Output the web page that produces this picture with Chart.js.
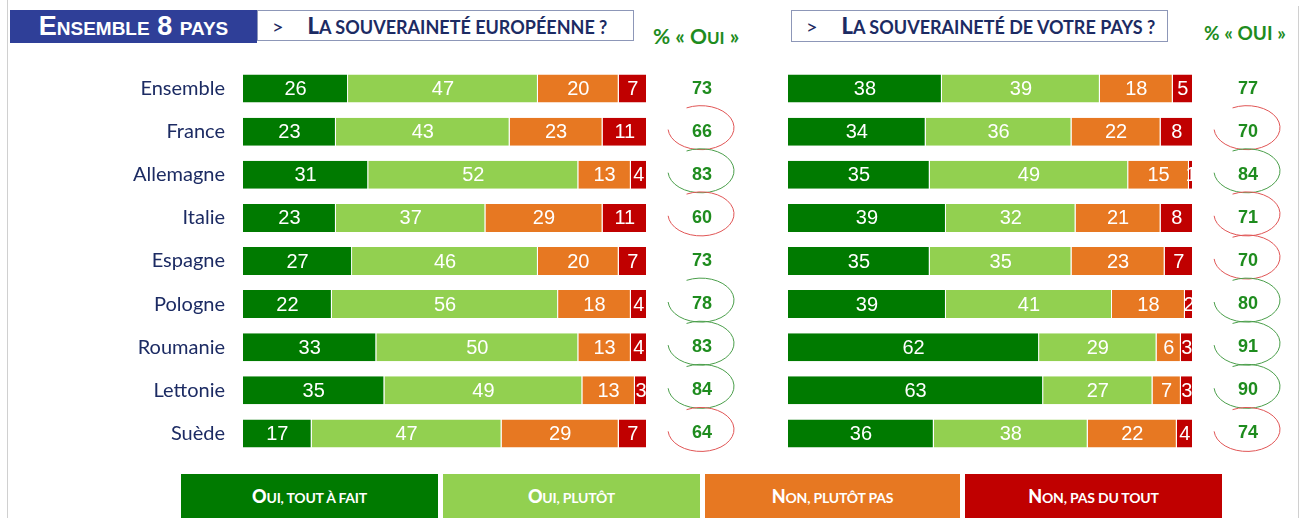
<!DOCTYPE html>
<html lang="fr">
<head>
<meta charset="utf-8">
<script src="https://cdn.jsdelivr.net/npm/chart.js@4"></script>
<style>
    body { margin: 0; background: #fff; width: 1306px; height: 518px; position: relative; overflow: hidden; font-family: Lato, "Open Sans", sans-serif; }
    .abs { position: absolute; }
    .vline { position: absolute; top: 0; width: 1px; height: 518px; background: #d0d0d0; }
    .titre-bleu { left: 10px; top: 10px; width: 247px; height: 33px; background: #2f3f98; color: #fff;
        font: bold 27px "Liberation Sans", Arial, sans-serif; font-variant: small-caps; line-height: 33px; text-align: center; }
    .question { top: 10px; height: 31px; border: 1px solid #8d97b8; box-sizing: border-box; background: #fff; color: #1c2b63;
        font: bold 18px Lato, sans-serif; text-transform: uppercase; line-height: 29px; white-space: nowrap; letter-spacing: 0px; }
    .question b { font-size: 22px; }
    .question span { font-weight: normal; font-size: 20px; margin: 0 24px 0 14px; }
    .oui { color: #1e8c1e; font: bold 21px Lato, sans-serif; white-space: nowrap; }
    .oui small { font-size: 17px; }
    .legende { top: 474px; height: 44px; color: #fff; font: bold 14px Lato, sans-serif; text-transform: uppercase;
        letter-spacing: -0.2px; line-height: 44px; text-align: center; }
    .legende b { font-size: 18px; }
    canvas { position: absolute; }
</style>
</head>
<body>
<div class="vline" style="left:7px"></div>
<div class="vline" style="left:1298px; top:6px"></div>

<div class="abs titre-bleu">Ensemble 8 pays</div>
<div class="abs question" style="left:257px; width:377px;"><span>&gt;</span><b>L</b>a souveraineté européenne ?</div>
<div class="abs oui" style="left:653px; top:23px;">% « O<small>UI</small> »</div>
<div class="abs question" style="left:791px; width:377px; height:32px;"><span>&gt;</span><b>L</b>a souveraineté de votre pays ?</div>
<div class="abs oui" style="left:1204px; top:21px; font-size:19px;">% « OUI »</div>

<canvas id="chartEurope" width="780" height="388" style="left:0; top:67px;"></canvas>
<canvas id="chartPays" width="536" height="388" style="left:770px; top:67px;"></canvas>

<div id="legende"></div>

<script>
// Données
const pays = ["Ensemble", "France", "Allemagne", "Italie", "Espagne", "Pologne", "Roumanie", "Lettonie", "Suède"];
const reponses = ["Oui, tout à fait", "Oui, plutôt", "Non, plutôt pas", "Non, pas du tout"];
const couleurs = ["#007a00", "#92d050", "#e77822", "#c00000"];

// Souveraineté européenne
const euToutAFait = [26, 23, 31, 23, 27, 22, 33, 35, 17];
const euPlutot = [47, 43, 52, 37, 46, 56, 50, 49, 47];
const euPlutotPas = [20, 23, 13, 29, 20, 18, 13, 13, 29];
const euPasDuTout = [7, 11, 4, 11, 7, 4, 4, 3, 7];
const euOui = [73, 66, 83, 60, 73, 78, 83, 84, 64];
const euCercles = [null, "bas", "haut", "bas", null, "haut", "haut", "haut", "bas"];

// Souveraineté de votre pays
const paysToutAFait = [38, 34, 35, 39, 35, 39, 62, 63, 36];
const paysPlutot = [39, 36, 49, 32, 35, 41, 29, 27, 38];
const paysPlutotPas = [18, 22, 15, 21, 23, 18, 6, 7, 22];
const paysPasDuTout = [5, 8, 1, 8, 7, 2, 3, 3, 4];
const paysOui = [77, 70, 84, 71, 70, 80, 91, 90, 74];
const paysCercles = [null, "bas", "haut", "bas", "bas", "haut", "haut", "haut", "bas"];

// Valeurs dans les barres
const etiquettesBarres = {
    id: "etiquettesBarres",
    afterDatasetsDraw(chart) {
        const ctx = chart.ctx;
        ctx.save();
        ctx.font = '20px "Liberation Sans", Arial, sans-serif';
        ctx.fillStyle = "#fff";
        ctx.textAlign = "center";
        ctx.textBaseline = "middle";
        chart.data.datasets.forEach((ds, i) => {
            chart.getDatasetMeta(i).data.forEach((bar, j) => {
                ctx.fillText(ds.data[j], (bar.x + bar.base) / 2, bar.y + 1);
            });
        });
        ctx.restore();
    }
};

// Colonne "% Oui" avec les cercles dessinés à la main
const colonneOui = {
    id: "colonneOui",
    afterDraw(chart, args, opts) {
        const ctx = chart.ctx;
        const yScale = chart.scales.y;
        const x = chart.chartArea.right + 55;
        ctx.save();
        opts.valeurs.forEach((v, i) => {
            const y = yScale.getPixelForValue(i);
            ctx.font = 'bold 18px "Liberation Sans", Arial, sans-serif';
            ctx.fillStyle = "#1e8c1e";
            ctx.textAlign = "center";
            ctx.textBaseline = "middle";
            ctx.fillText(v, x, y);
            const marque = opts.cercles[i];
            if (marque) {
                ctx.beginPath();
                ctx.strokeStyle = marque === "haut" ? "#4a9e4a" : "#e05555";
                ctx.lineWidth = 1;
                ctx.ellipse(x - 1, y - 4, 33, 22, 0, 244 * Math.PI / 180, 535 * Math.PI / 180);
                ctx.stroke();
            }
        });
        ctx.restore();
    }
};

function buildDatasets(series) {
    return series.map((data, i) => ({
        label: reponses[i],
        data: data,
        backgroundColor: couleurs[i],
        borderColor: "#fff",
        borderWidth: { top: 0, bottom: 0, left: 0, right: 1 },
        borderSkipped: false,
        categoryPercentage: 1,
        barPercentage: 0.65
    }));
}

function renderChart(id, series, oui, cercles, showLabels, padding) {
    const ctx = document.getElementById(id).getContext("2d");
    return new Chart(ctx, {
        type: "bar",
        data: { labels: pays, datasets: buildDatasets(series) },
        options: {
            indexAxis: "y",
            responsive: false,
            animation: false,
            layout: { padding: padding },
            scales: {
                x: { stacked: true, min: 0, max: 100, display: false },
                y: {
                    stacked: true,
                    display: showLabels,
                    grid: { display: false, drawTicks: false },
                    border: { display: false },
                    ticks: {
                        padding: 18,
                        color: "#1c2b63",
                        font: { family: "Lato", size: 20 }
                    },
                    afterFit(axis) {
                        if (!showLabels) return;
                        axis.width = 243;
                        axis.paddingTop = 0;
                        axis.paddingBottom = 0;
                    }
                }
            },
            plugins: {
                legend: { display: false },
                tooltip: { enabled: false },
                colonneOui: { valeurs: oui, cercles: cercles }
            }
        },
        plugins: [etiquettesBarres, colonneOui]
    });
}

// Légende en bas
const positions = [[181, 257], [443, 257], [705, 255], [965, 257]];
document.getElementById("legende").innerHTML = reponses.map((r, i) =>
    `<div class="abs legende" style="left:${positions[i][0]}px; width:${positions[i][1]}px; background:${couleurs[i]};"><b>${r[0]}</b>${r.slice(1)}</div>`
).join("");

// on attend les polices avant de dessiner les canvas
Promise.all([
    document.fonts.load('20px Lato'),
    document.fonts.load('bold 18px "Liberation Sans"'),
    document.fonts.load('20px "Liberation Sans"')
]).catch(() => {}).then(() => {
    renderChart("chartEurope", [euToutAFait, euPlutot, euPlutotPas, euPasDuTout], euOui, euCercles, true,
        { left: 0, right: 133, top: 0, bottom: 0 });
    renderChart("chartPays", [paysToutAFait, paysPlutot, paysPlutotPas, paysPasDuTout], paysOui, paysCercles, false,
        { left: 18, right: 113, top: 0, bottom: 0 });
});
</script>
</body>
</html>
